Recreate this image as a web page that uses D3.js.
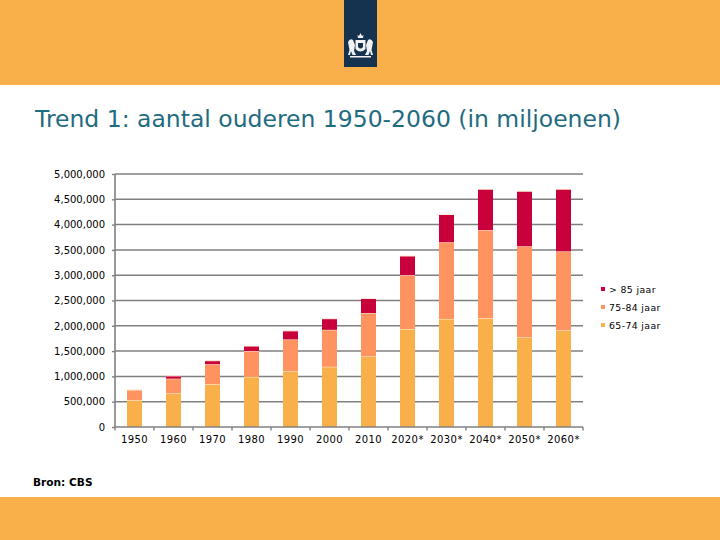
<!DOCTYPE html>
<html lang="en">
<head>
    <meta charset="UTF-8">
    <title>Trend 1</title>
    <script src="https://d3js.org/d3.v7.min.js"></script>
    <style>
        html, body { margin: 0; padding: 0; background: #fff; }
        svg { display: block; }
        text { font-family: "DejaVu Sans", Verdana, sans-serif; }
    </style>
</head>
<body>
    <div id="chart"></div>
    <script>
        const years = ["1950", "1960", "1970", "1980", "1990", "2000", "2010", "2020*", "2030*", "2040*", "2050*", "2060*"]
        // people per age group
        const age6574 = [530000, 665000, 845000, 990000, 1100000, 1190000, 1395000, 1935000, 2135000, 2150000, 1770000, 1910000]
        const age7584 = [200000, 290000, 395000, 510000, 630000, 730000, 855000, 1065000, 1515000, 1740000, 1800000, 1560000]
        const age85 = [10000, 55000, 70000, 100000, 170000, 220000, 290000, 380000, 550000, 810000, 1090000, 1230000]
        const yTicks = [0, 500000, 1000000, 1500000, 2000000, 2500000, 3000000, 3500000, 4000000, 4500000, 5000000]

        const groups = ["65-74 jaar", "75-84 jaar", "> 85 jaar"]
        const colors = ["#F9B04A", "#FF9460", "#C8003C"]
        const rows = years.map((y, i) => ({ year: y, "65-74 jaar": age6574[i], "75-84 jaar": age7584[i], "> 85 jaar": age85[i] }))

        const svg = d3.select("#chart").append("svg")
            .attr("width", 720)
            .attr("height", 540)

        // top and bottom bands
        svg.append("rect").attr("width", 720).attr("height", 85).attr("fill", "#F9B04A")
        svg.append("rect").attr("y", 497).attr("width", 720).attr("height", 43).attr("fill", "#F9B04A")

        // logo
        svg.append("rect").attr("x", 344).attr("width", 33).attr("height", 67).attr("fill", "#15324F")
        const logo = svg.append("g").attr("fill", "#F2F2F2").attr("stroke", "none")
        logo.append("path").attr("d", "M358 38 L357.5 35 L359 36 L360.5 33 L362 36 L363.5 35 L363 38 Z")
        logo.append("path").attr("d", "M355.5 40 H365.5 V49 Q360.5 54 355.5 49 Z")
        logo.append("path").attr("d", "M348 42 Q350 38 353 40 L355 45 L354 51 L356 55 H352.5 L351 51 L350 55 H348 L349.5 50 Z")
        logo.append("path").attr("d", "M373 42 Q371 38 368 40 L366 45 L367 51 L365 55 H368.5 L370 51 L371 55 H373 L371.5 50 Z")
        logo.append("rect").attr("x", 350).attr("y", 56).attr("width", 21).attr("height", 1.5)
        logo.append("path").attr("d", "M358 43 H363 V47 Q360.5 50 358 47 Z").attr("fill", "#15324F")

        // title
        svg.append("text")
            .attr("x", 35).attr("y", 127)
            .attr("font-size", 23.5)
            .attr("textLength", 586)
            .attr("lengthAdjust", "spacingAndGlyphs")
            .attr("fill", "#1F6B80")
            .text("Trend 1: aantal ouderen 1950-2060 (in miljoenen)")

        const x = d3.scaleBand().domain(years).range([115, 583])
        const y = d3.scaleLinear().domain([0, 5000000]).range([427, 174])
        const barWidth = x.bandwidth() * 0.385

        // gridlines
        svg.append("g").selectAll("line")
            .data(yTicks.slice(1))
            .enter().append("line")
            .attr("x1", 115).attr("x2", 583)
            .attr("y1", d => y(d)).attr("y2", d => y(d))
            .attr("stroke", "#808080").attr("stroke-width", 1.5)

        // stacked bars
        const stacked = d3.stack().keys(groups)(rows)
        const layer = svg.append("g").selectAll("g")
            .data(stacked)
            .enter().append("g")
            .attr("fill", (d, i) => colors[i])

        layer.selectAll("rect")
            .data(d => d)
            .enter().append("rect")
            .attr("x", d => x(d.data.year) + (x.bandwidth() - barWidth) / 2)
            .attr("width", barWidth)
            .attr("y", d => y(d[1]))
            .attr("height", d => y(d[0]) - y(d[1]))

        // pale line on top of each segment
        layer.selectAll("line")
            .data(d => d)
            .enter().append("line")
            .attr("x1", d => x(d.data.year) + (x.bandwidth() - barWidth) / 2)
            .attr("x2", d => x(d.data.year) + (x.bandwidth() + barWidth) / 2)
            .attr("y1", d => y(d[1]))
            .attr("y2", d => y(d[1]))
            .attr("stroke", "#FFF4D8").attr("stroke-width", 1)

        // axes
        const yAxis = svg.append("g")
            .attr("transform", "translate(115,0)")
            .call(d3.axisLeft(y).tickValues(yTicks).tickFormat(d3.format(",")).tickSize(3).tickPadding(7))
        yAxis.selectAll("path").attr("d", "M0,174 V427")
        const xAxis = svg.append("g")
            .attr("transform", "translate(0,427)")
            .call(d3.axisBottom(x).tickSize(0).tickPadding(9))
        xAxis.select("path").attr("d", "M115,0 H583")
        xAxis.selectAll(".edge")
            .data(d3.range(years.length + 1))
            .enter().append("line")
            .attr("class", "edge")
            .attr("x1", i => 115 + i * x.step())
            .attr("x2", i => 115 + i * x.step())
            .attr("y1", 0).attr("y2", 3.5)
            .attr("stroke", "#808080").attr("stroke-width", 1.4)

        svg.selectAll(".domain").attr("stroke", "#808080").attr("stroke-width", 1.6).attr("fill", "none")
        yAxis.selectAll(".tick line").attr("stroke", "#808080").attr("stroke-width", 1.4)
        svg.selectAll(".tick text").attr("font-family", "DejaVu Sans").attr("font-size", 10).attr("fill", "#000")
        xAxis.selectAll(".tick text").attr("letter-spacing", 0.45)

        // legend
        const legend = svg.append("g").selectAll("g")
            .data(groups.slice().reverse())
            .enter().append("g")
            .attr("transform", (d, i) => "translate(603," + (289 + i * 18) + ")")
        legend.append("rect")
            .attr("x", -2).attr("y", -2).attr("width", 4).attr("height", 4)
            .attr("fill", d => colors[groups.indexOf(d)])
        legend.append("text")
            .attr("x", 6).attr("y", 3.5)
            .attr("font-size", 9.3)
            .attr("letter-spacing", 0.4)
            .attr("fill", "#000")
            .text(d => d)

        // source
        svg.append("text")
            .attr("x", 33).attr("y", 486)
            .attr("font-size", 10.6)
            .attr("font-weight", "bold")
            .attr("fill", "#000")
            .text("Bron: CBS")
    </script>
</body>
</html>
